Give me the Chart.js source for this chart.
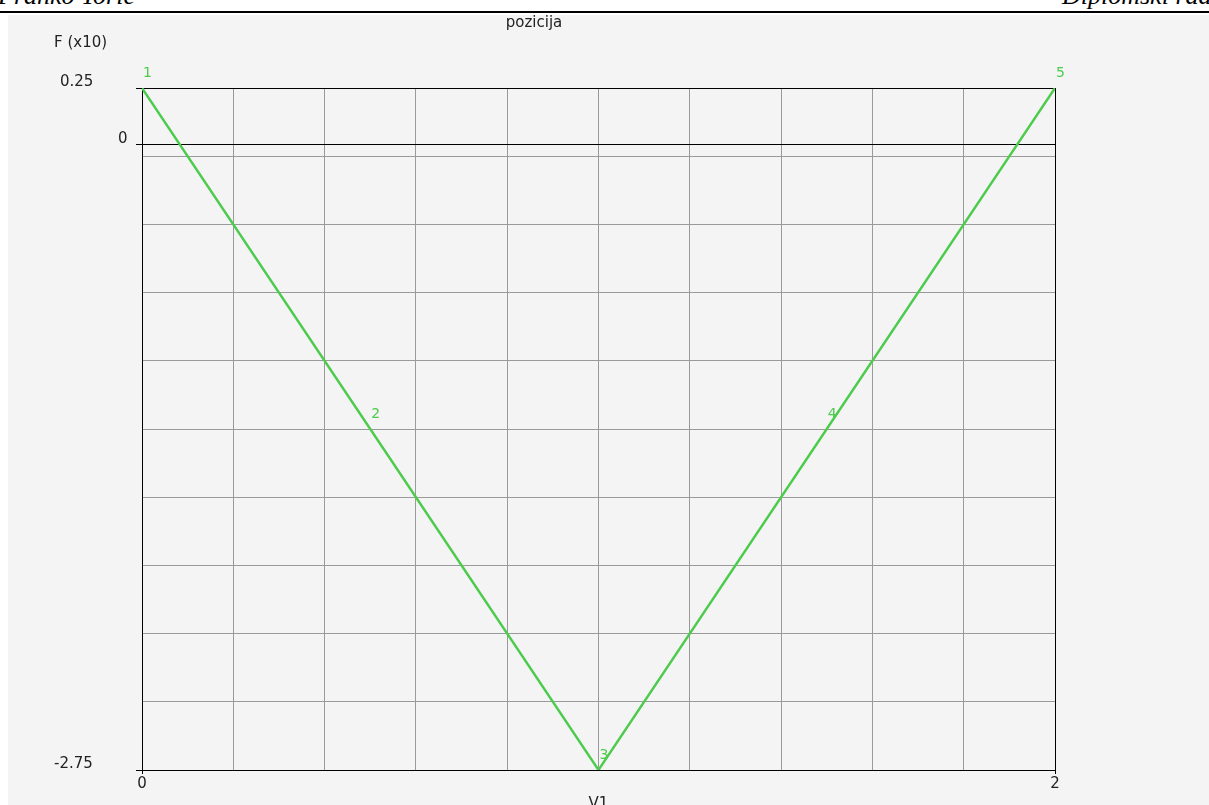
<!DOCTYPE html>
<html>
<head>
<meta charset="utf-8">
<script src="https://cdn.jsdelivr.net/npm/chart.js@4"></script>
<style>
  html, body { margin: 0; padding: 0; background: #ffffff; width: 1209px; height: 805px; overflow: hidden; position: relative; }
  .hdr { position: absolute; top: -19px; font-family: "Liberation Serif", serif; font-style: italic; font-size: 26px; color: #000; white-space: nowrap; }
  #hl { left: -2px; }
  #hr { left: 1062px; }
  #rule { position: absolute; left: 0; top: 11px; width: 1209px; height: 2px; background: #000; }
  #panel { position: absolute; left: 8px; top: 15px; width: 1201px; height: 790px; background: #f4f4f4; }
  canvas { position: absolute; left: 0; top: 0; }
</style>
</head>
<body>
<div class="hdr" id="hl">Franko Torić</div>
<div class="hdr" id="hr">Diplomski rad</div>
<div id="rule"></div>
<div id="panel"><canvas id="c" width="1201" height="790"></canvas></div>
<script>
// ---- data ----
const xValues = [0, 0.5, 1, 1.5, 2];
const yValues = [0.25, -1.25, -2.75, -1.25, 0.25];
const pointLabels = ['1', '2', '3', '4', '5'];
const xGridTicks = [0, 0.2, 0.4, 0.6, 0.8, 1.0, 1.2, 1.4, 1.6, 1.8, 2];
const xTickLabels = { 0: '0', 2: '2' };
const yGridTicks = [-2.75, -2.45, -2.15, -1.85, -1.55, -1.25, -0.95, -0.65, -0.35, -0.05, 0, 0.25];
const yTickLabels = [
  { value: 0.25, text: '0.25', x: 52 },
  { value: 0, text: '0', x: 110 },
  { value: -2.75, text: '-2.75', x: 46 }
];
const yTitle = 'F (x10)';
const chartTitle = 'pozicija';
const xTitle = 'V1';

const FONT = '"DejaVu Sans", Verdana, sans-serif';
const GREEN = '#4ccb4c';
const GRID = '#9a9a9a';

const isEdgeOrZeroY = v => Math.abs(v - 0.25) < 1e-6 || Math.abs(v) < 1e-6 || Math.abs(v + 2.75) < 1e-6;
const isEdgeX = v => Math.abs(v) < 1e-6 || Math.abs(v - 2) < 1e-6;

const textPlugin = {
  id: 'texts',
  afterDraw(chart) {
    const ctx = chart.ctx;
    const ys = chart.scales.y, xs = chart.scales.x;
    ctx.save();
    ctx.font = '15px ' + FONT;
    ctx.fillStyle = '#222';
    ctx.textBaseline = 'middle';
    ctx.textAlign = 'left';
    yTickLabels.forEach(t => {
      ctx.fillText(t.text, t.x, ys.getPixelForValue(t.value) - 6);
    });
    ctx.fillText(yTitle, 46, 28);
    ctx.textAlign = 'center';
    ctx.fillText(chartTitle, 526, 8);
    ctx.fillText(xTitle, xs.getPixelForValue(1), 789);
    // point number labels
    ctx.font = '14px ' + FONT;
    ctx.fillStyle = GREEN;
    ctx.textAlign = 'left';
    const meta = chart.getDatasetMeta(0);
    meta.data.forEach((pt, i) => {
      ctx.fillText(pointLabels[i], pt.x + 1, pt.y - 15);
    });
    ctx.restore();
  }
};

new Chart(document.getElementById('c'), {
  type: 'scatter',
  data: {
    datasets: [{
      data: xValues.map((x, i) => ({ x: x, y: yValues[i] })),
      showLine: true,
      borderColor: GREEN,
      borderWidth: 2.4,
      pointRadius: 0,
      pointHoverRadius: 0,
      tension: 0
    }]
  },
  options: {
    responsive: false,
    devicePixelRatio: 1,
    animation: false,
    events: [],
    layout: { padding: { left: 0, top: 73, right: 154, bottom: 0 } },
    plugins: { legend: { display: false }, tooltip: { enabled: false }, title: { display: false } },
    scales: {
      x: {
        type: 'linear',
        min: 0, max: 2,
        afterBuildTicks: s => { s.ticks = xGridTicks.map(v => ({ value: v })); },
        afterFit: s => { s.height = 35; },
        border: { color: '#000', width: 1 },
        grid: {
          color: c => isEdgeX(c.tick.value) ? '#000' : GRID,
          lineWidth: 1,
          tickLength: 4,
          tickColor: c => isEdgeX(c.tick.value) ? '#000' : 'rgba(0,0,0,0)'
        },
        ticks: {
          autoSkip: false,
          maxRotation: 0,
          padding: 1,
          color: '#222',
          font: { family: FONT, size: 15 },
          callback: v => (xTickLabels[Math.round(v * 1000) / 1000] !== undefined ? xTickLabels[Math.round(v * 1000) / 1000] : '')
        }
      },
      y: {
        type: 'linear',
        min: -2.75, max: 0.25,
        afterBuildTicks: s => { s.ticks = yGridTicks.map(v => ({ value: v })); },
        afterFit: s => { s.width = 134; },
        border: { color: '#000', width: 1 },
        grid: {
          color: c => isEdgeOrZeroY(c.tick.value) ? '#000' : GRID,
          lineWidth: 1,
          tickLength: 6,
          tickColor: c => isEdgeOrZeroY(c.tick.value) ? '#000' : 'rgba(0,0,0,0)'
        },
        ticks: { display: true, callback: () => '', font: { family: FONT, size: 12 } }
      }
    }
  },
  plugins: [textPlugin]
});
</script>
</body>
</html>
